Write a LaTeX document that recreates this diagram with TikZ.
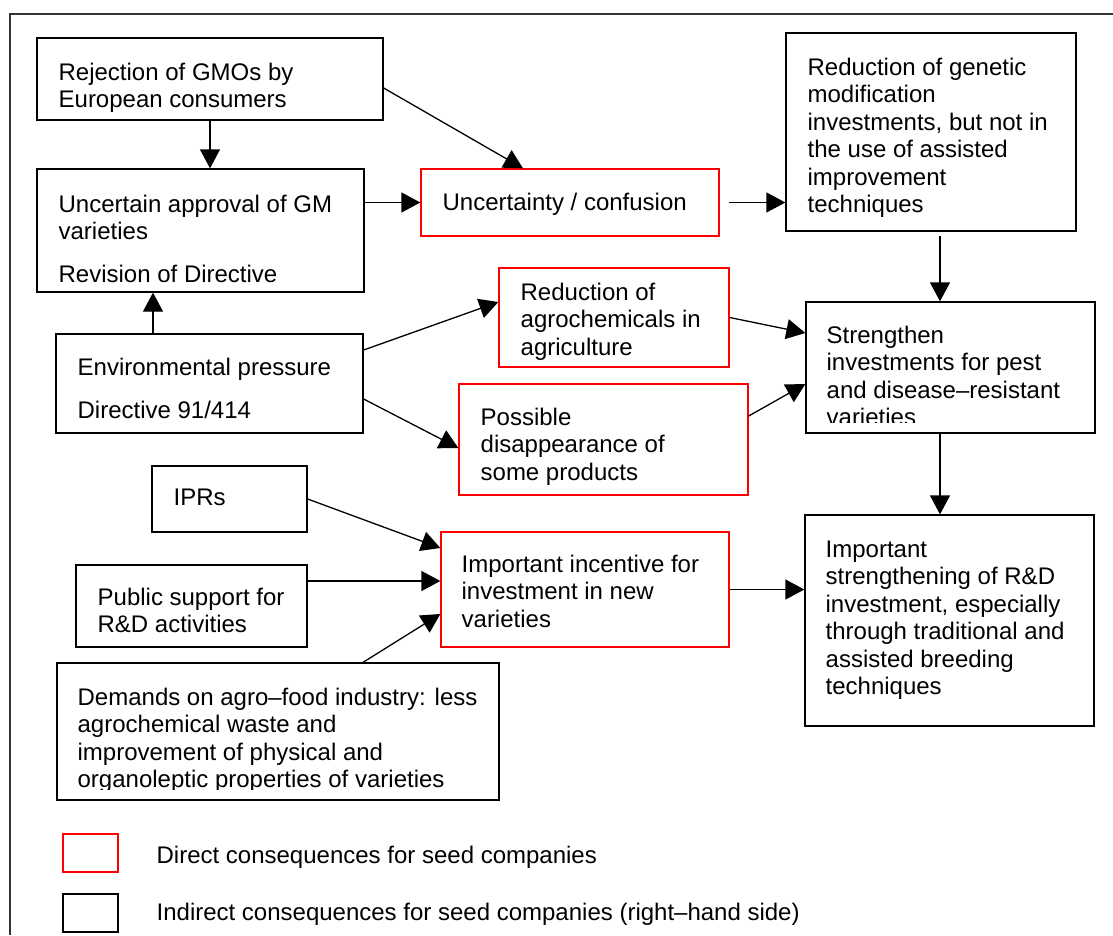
\documentclass[tikz,border=0pt]{standalone}
\usepackage{fontspec}
\setmainfont{Liberation Sans}
\usetikzlibrary{arrows.meta,calc}

\newcommand{\boxtext}[1]{\begin{tabular}[t]{@{}l@{}}#1\end{tabular}}

\begin{document}
\begin{tikzpicture}[x=1pt,y=-1pt,line width=1.3pt,
    font=\fontsize{24}{27.5}\selectfont,
    blackbox/.style={draw=black,inner sep=0pt},
    redbox/.style={draw=red,inner sep=0pt},
    lbl/.style={anchor=base west,inner sep=0pt},
    arr/.style={-{Triangle[length=19pt,width=20pt]}}]
  \useasboundingbox (0,0) rectangle (1113,935);

  % outer frame
  \draw[black!80,line width=1.5pt] (10,935) -- (10,14) -- (1113,14);

  % left column
  \node[blackbox,minimum width=346,minimum height=82] (rej) at (210,79) {};
  \node[lbl] (rej-t) at (58,80) {\boxtext{Rejection of GMOs by\\European consumers}};

  \node[blackbox,minimum width=327,minimum height=123] (appr) at (200.5,230.5) {};
  \node[lbl] (appr-t) at (58,212) {\boxtext{Uncertain approval of GM\\varieties\\[15pt]Revision of Directive}};

  \node[blackbox,minimum width=307,minimum height=99] (env) at (209.5,383.5) {};
  \node[lbl] (env-t) at (77,375) {\boxtext{Environmental pressure\\[15.5pt]Directive 91/414}};

  \node[blackbox,minimum width=155,minimum height=66] (ipr) at (229.5,499) {};
  \node[lbl] (ipr-t) at (173,505) {IPRs};

  \node[blackbox,minimum width=231,minimum height=82] (pub) at (191.5,606) {};
  \node[lbl] (pub-t) at (97,605) {\boxtext{Public support for\\R\&D activities}};

  \node[blackbox,minimum width=442,minimum height=137] (dem) at (278,731.5) {};
  \begin{scope}
    \clip (57,663) rectangle (499,789);
    \node[lbl] (dem-t) at (77,705) {\boxtext{Demands on agro–food industry: less\\agrochemical waste and\\improvement of physical and\\organoleptic properties of varieties}};
  \end{scope}

  % middle column (direct consequences)
  \node[redbox,minimum width=298,minimum height=67] (unc) at (570,202.5) {};
  \node[lbl] (unc-t) at (442,210) {Uncertainty / confusion};

  \node[redbox,minimum width=230,minimum height=99] (agro) at (614,317.5) {};
  \node[lbl] (agro-t) at (520,300) {\boxtext{Reduction of\\agrochemicals in\\agriculture}};

  \node[redbox,minimum width=289,minimum height=111] (poss) at (603.5,439.5) {};
  \node[lbl] (poss-t) at (480,425) {\boxtext{Possible\\disappearance of\\some products}};

  \node[redbox,minimum width=288,minimum height=115] (inc) at (585,589.5) {};
  \node[lbl] (inc-t) at (461,572) {\boxtext{Important incentive for\\investment in new\\varieties}};

  % right column
  \node[blackbox,minimum width=290,minimum height=198] (gen) at (931,132) {};
  \node[lbl] (gen-t) at (807,75) {\boxtext{Reduction of genetic\\modification\\investments, but not in\\the use of assisted\\improvement\\techniques}};

  \node[blackbox,minimum width=289,minimum height=131] (str) at (950.5,367.5) {};
  \begin{scope}
    \clip (806,302) rectangle (1095,422);
    \node[lbl] (str-t) at (826,343) {\boxtext{Strengthen\\investments for pest\\and disease–resistant\\varieties}};
  \end{scope}

  \node[blackbox,minimum width=289,minimum height=211] (rd) at (949.5,620.5) {};
  \node[lbl] (rd-t) at (825,557) {\boxtext{Important\\strengthening of R\&D\\investment, especially\\through traditional and\\assisted breeding\\techniques}};

  % arrows
  \draw[arr] (rej.south) -- (rej.south |- appr.north);
  \draw[arr] ($(rej.east)+(0,9)$) -- ($(unc.north)+(-47,0)$);
  \draw[arr] (appr.east |- unc.west) -- (unc.west);
  \draw[arr] ($(unc.east)+(9,0)$) -- (gen.west |- unc.east);
  \draw[arr] ($(gen.south)+(9,4)$) -- ($(str.north)+(-10.5,0)$);
  \draw[arr] (agro.east) -- ($(str.west)+(0,-34.5)$);
  \draw[arr] ($(poss.east)+(0,-23.5)$) -- ($(str.west)+(0,16.5)$);
  \draw[arr] ($(env.north)+(-56.5,0)$) -- ($(appr.south)+(-47.5,0)$);
  \draw[arr] ($(env.east)+(0,-33.5)$) -- ($(agro.west)+(0,-15.5)$);
  \draw[arr] ($(env.east)+(0,15.5)$) -- ($(poss.west)+(0,8.5)$);
  \draw[arr] (ipr.east) -- ($(inc.west)+(0,-41.5)$);
  \draw[arr] ($(pub.east)+(0,-25)$) -- ($(inc.west)+(0,-8.5)$);
  \draw[arr] ($(dem.north)+(85,0)$) -- ($(inc.west)+(0,24.5)$);
  \draw[arr] (inc.east) -- (rd.west |- inc.east);
  \draw[arr] ($(str.south)+(-10.5,0)$) -- ($(rd.north)+(-9.5,0)$);

  % legend
  \node[redbox,minimum width=55,minimum height=38] (key-d) at (90.5,853) {};
  \node[lbl] (key-d-t) at (156,863) {Direct consequences for seed companies};
  \node[blackbox,minimum width=55,minimum height=38] (key-i) at (90.5,913) {};
  \node[lbl] (key-i-t) at (156,920) {Indirect consequences for seed companies (right–hand side)};
\end{tikzpicture}
\end{document}
